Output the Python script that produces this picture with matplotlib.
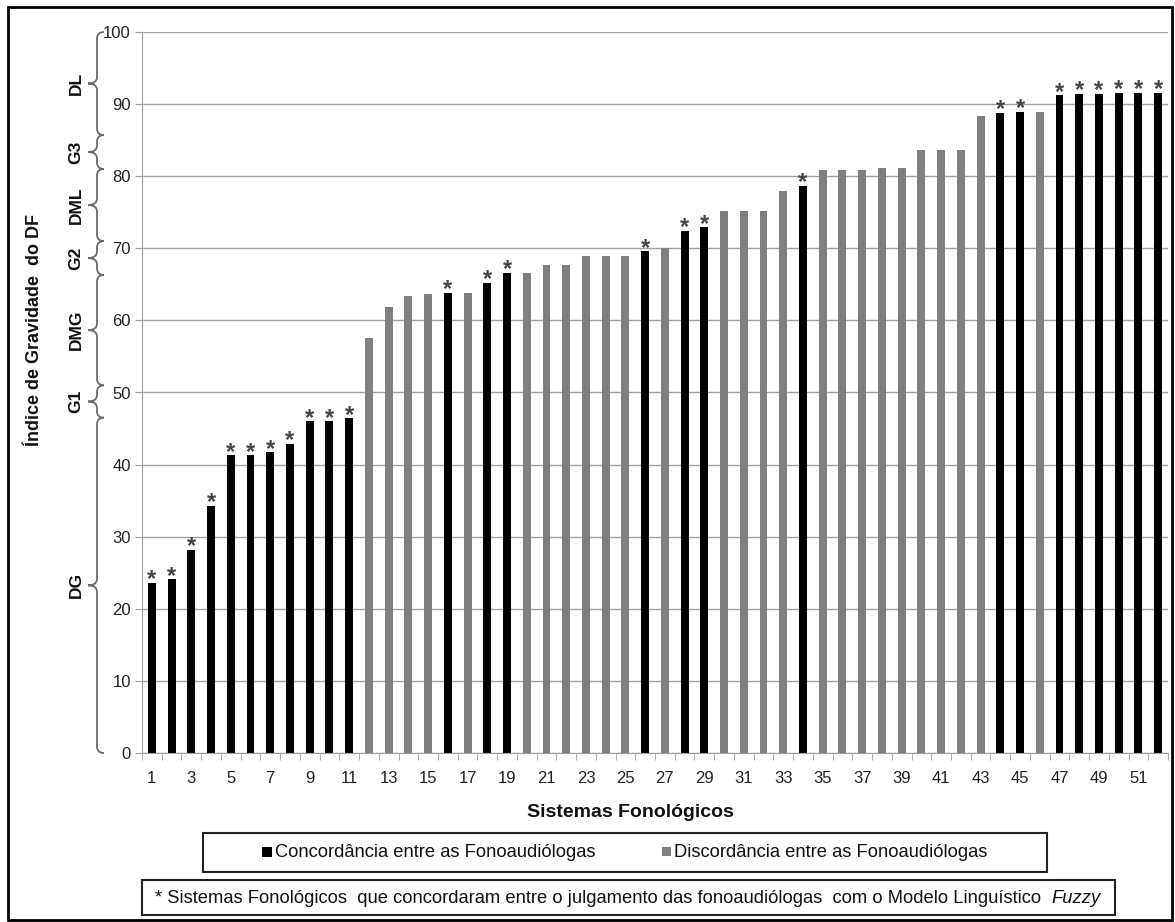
import matplotlib
matplotlib.use("Agg")
import matplotlib.pyplot as plt
from matplotlib.path import Path
from matplotlib.patches import PathPatch, Rectangle
import matplotlib.transforms as mtransforms

plt.rcParams['font.family'] = ['Liberation Sans', 'DejaVu Sans']

# dados
sistemas = list(range(1, 53))
indice = [23.6, 24.1, 28.2, 34.3, 41.3, 41.3, 41.7, 42.9, 46.0, 46.0,
          46.4, 57.6, 61.9, 63.4, 63.6, 63.8, 63.8, 65.2, 66.6, 66.6,
          67.7, 67.7, 68.9, 68.9, 68.9, 69.6, 70.1, 72.4, 72.9, 75.2,
          75.2, 75.2, 78.0, 78.7, 80.8, 80.8, 80.8, 81.2, 81.2, 83.6,
          83.6, 83.6, 88.4, 88.8, 88.9, 88.9, 91.2, 91.4, 91.4, 91.6,
          91.6, 91.6]
concordancia = [1, 2, 3, 4, 5, 6, 7, 8, 9, 10, 11, 16, 18, 19, 26, 28, 29,
                34, 44, 45, 47, 48, 49, 50, 51, 52]
faixas = [("DG", 0, 46.5), ("G1", 46.5, 51), ("DMG", 51, 66.3), ("G2", 66.3, 71),
          ("DML", 71, 81), ("G3", 81, 85.7), ("DL", 85.7, 100)]
rotulo_conc = "Concordância entre as Fonoaudiólogas"
rotulo_disc = "Discordância entre as Fonoaudiólogas"
nota = "* Sistemas Fonológicos  que concordaram entre o julgamento das fonoaudiólogas  com o Modelo Linguístico  "

W, H = 1175, 922
fig = plt.figure(figsize=(W / 100, H / 100), dpi=100)
ax = fig.add_axes([142 / W, 1 - 753 / H, 1026 / W, (753 - 32) / H])

cores = ['#000000' if s in concordancia else '#7f7f7f' for s in sistemas]
ax.bar(sistemas, indice, width=0.4, color=cores, zorder=2)

for s, v in zip(sistemas, indice):
    if s in concordancia:
        ax.annotate('*', (s, v), xytext=(0, -2.5), textcoords='offset points',
                    ha='center', va='baseline', fontsize=17, color='#454545',
                    fontweight='bold')

ax.set_xlim(0.5, 52.5)
ax.set_ylim(0, 100)
ax.set_yticks(range(0, 101, 10))
ax.set_xticks(range(1, 53, 2))
ax.set_xticks([k + 0.5 for k in range(0, 53)], minor=True)
ax.tick_params(axis='x', which='major', length=0, pad=13, labelsize=12, labelcolor='#222222')
ax.tick_params(axis='x', which='minor', length=5, color='#a0a0a0')
ax.tick_params(axis='y', length=5, color='#a0a0a0', pad=3, labelsize=12, labelcolor='#222222')
ax.grid(axis='y', color='#a0a0a0', lw=1, zorder=0)
for sp in ['top', 'right']:
    ax.spines[sp].set_visible(False)
for sp in ['left', 'bottom']:
    ax.spines[sp].set_color('#a0a0a0')

# chaves das faixas de gravidade
trans = mtransforms.blended_transform_factory(ax.transAxes, ax.transData)
xs = -45 / 1026
gancho = 7 / 1026
ponta = 9 / 1026
r = 0.9
for nome, y0, y1 in faixas:
    ym = (y0 + y1) / 2
    verts = [(xs + gancho, y0), (xs, y0), (xs, y0 + r), (xs, ym - r),
             (xs, ym), (xs - ponta, ym), (xs, ym), (xs, ym + r),
             (xs, y1 - r), (xs, y1), (xs + gancho, y1)]
    codes = [Path.MOVETO, Path.CURVE3, Path.CURVE3, Path.LINETO,
             Path.CURVE3, Path.CURVE3, Path.CURVE3, Path.CURVE3,
             Path.LINETO, Path.CURVE3, Path.CURVE3]
    ax.add_patch(PathPatch(Path(verts, codes), transform=trans, fill=False,
                           edgecolor='#6a6a6a', lw=1.3, clip_on=False))
    ax.text(xs - 21 / 1026, ym, nome, transform=trans, rotation=90, ha='center',
            va='center', fontsize=12.5, fontweight='bold', color='#111111')

fig.text(35 / W, 1 - 330 / H, "Índice de Gravidade  do DF", rotation=90, ha='center',
         va='center', fontsize=13, fontweight='bold', color='#111111')
fig.text(630 / W, 1 - 812 / H, "Sistemas Fonológicos", ha='center', va='center',
         fontsize=14, fontweight='bold', color='#111111')

# legenda
fig.patches.append(Rectangle((203 / W, 1 - 872 / H), 844 / W, 39 / H, transform=fig.transFigure,
                             fill=False, edgecolor='#222222', lw=1.5))
fig.patches.append(Rectangle((262 / W, 1 - 857 / H), 10 / W, 10 / H, transform=fig.transFigure,
                             facecolor='#000000', edgecolor='none'))
fig.text(275 / W, 1 - 852 / H, rotulo_conc, ha='left', va='center', fontsize=13.2, color='#111111')
fig.patches.append(Rectangle((662 / W, 1 - 856 / H), 9 / W, 9 / H, transform=fig.transFigure,
                             facecolor='#7f7f7f', edgecolor='none'))
fig.text(674 / W, 1 - 852 / H, rotulo_disc, ha='left', va='center', fontsize=13.2, color='#111111')

# nota de rodape
fig.patches.append(Rectangle((142 / W, 1 - 915 / H), 973 / W, 35 / H, transform=fig.transFigure,
                             fill=False, edgecolor='#222222', lw=1.5))
t1 = fig.text(155 / W, 1 - 898 / H, nota, ha='left', va='center', fontsize=13.2, color='#111111')
ax.annotate("Fuzzy", xy=(1, 0.5), xycoords=t1, xytext=(0, 0), textcoords='offset points',
            ha='left', va='center', fontsize=13.2, style='italic', color='#111111',
            annotation_clip=False)

# moldura
fig.patches.append(Rectangle((8 / W, 1 - 920 / H), 1164 / W, 913 / H, transform=fig.transFigure,
                             fill=False, edgecolor='#000000', lw=2))

fig.savefig("out.png", dpi=100)
